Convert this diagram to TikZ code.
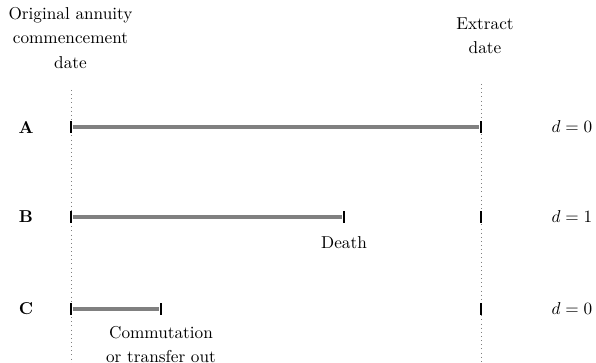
\documentclass[tikz,border=0pt]{standalone}
\usetikzlibrary{positioning}
\begin{document}
\begin{tikzpicture}[x=0.581pt,y=-0.581pt,
    bar/.style={line width=2.7pt, gray},
    tickmark/.style={fill=black, minimum width=1.4pt, minimum height=7pt, inner sep=0pt},
    guide/.style={dotted, gray, thin},
    rowlabel/.style={font=\bfseries}]
  \useasboundingbox (0,0) rectangle (596,363);
  % headings
  \node[align=center] (start) at (70.5,38) {Original annuity\\[2pt]commencement\\[2pt]date};
  \node[align=center] (extract) at (485,36) {Extract\\[2pt]date};
  % guides
  \coordinate (g1top) at (71,90);
  \coordinate (g1bot) at (71,363);
  \coordinate (g2top) at (481,84);
  \coordinate (g2bot) at (481,363);
  \draw[guide] (g1top) -- (g1bot);
  \draw[guide] (g2top) -- (g2bot);
  % ticks
  \node[tickmark] (a0) at (71,127) {};
  \node[tickmark] (a1) at (481,127) {};
  \node[tickmark] (b0) at (71,217) {};
  \node[tickmark] (b1) at (344,217) {};
  \node[tickmark] (b2) at (481,217) {};
  \node[tickmark] (c0) at (71,309) {};
  \node[tickmark] (c1) at (161,309) {};
  \node[tickmark] (c2) at (481,309) {};
  % bars
  \draw[bar] (a0) -- (a1);
  \draw[bar] (b0) -- (b1);
  \draw[bar] (c0) -- (c1);
  % row labels
  \node[rowlabel] (la) at (26,127) {A};
  \node[rowlabel] (lb) at (26,217) {B};
  \node[rowlabel] (lc) at (26,309) {C};
  \node (da) at (572,127) {$d=0$};
  \node (db) at (572,217) {$d=1$};
  \node (dc) at (572,309) {$d=0$};
  % events
  \node[below=4pt of b1] (death) {Death};
  \node[below=3pt of c1, align=center] (commute) {Commutation\\[2pt]or transfer out};
\end{tikzpicture}
\end{document}
